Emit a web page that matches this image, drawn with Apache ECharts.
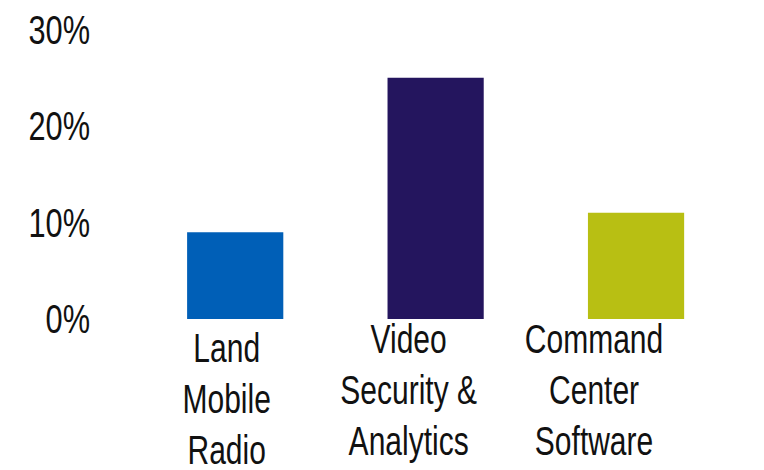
<!DOCTYPE html>
<html>
<head>
<meta charset="utf-8">
<script src="https://cdn.jsdelivr.net/npm/echarts@6/dist/echarts.min.js"></script>
<style>
  html, body { margin: 0; padding: 0; background: #fff; overflow: hidden; }
  #wrap { width: 764px; height: 470px; overflow: hidden; }
  #chart { height: 470px; transform-origin: 0 0; }
</style>
</head>
<body>
<div id="wrap"><div id="chart"></div></div>
<script>
// Segment growth shares
const categories = ['Land\nMobile\nRadio', 'Video\nSecurity &\nAnalytics', 'Command\nCenter\nSoftware'];
const shares = [9, 25, 11];
const barColors = ['#005FB7', '#24155E', '#B8BF13'];
const yTicks = [0, 10, 20, 30];

// The typeface is a condensed sans; the chart is drawn wide and squeezed
// horizontally so the lettering keeps its narrow proportions.
const SX = 0.75;
const W = 764;
const px = v => v / SX;   // on-screen horizontal px -> drawing px

// Per-label nudges (top, right padding in on-screen px)
const labelNudge = [[9, 17], [0, 54], [0, 84]];

const FONT = '"Liberation Sans", Arial, Helvetica, sans-serif';

const el = document.getElementById('chart');
el.style.width = px(W) + 'px';
el.style.transform = 'scaleX(' + SX + ')';

const chart = echarts.init(el, null, { renderer: 'svg' });

chart.setOption({
  backgroundColor: '#ffffff',
  animation: false,
  grid: {
    left: px(135), right: px(28), top: 29.5, bottom: 151,
    containLabel: false, outerBoundsMode: 'none'
  },
  xAxis: {
    type: 'category',
    data: categories.map((c, i) => ({
      value: c,
      textStyle: { padding: [labelNudge[i][0], px(labelNudge[i][1]), 0, 0] }
    })),
    axisLine: { show: false },
    axisTick: { show: false },
    axisLabel: {
      interval: 0,
      margin: -6,
      color: '#111111',
      fontFamily: FONT,
      fontSize: 40,
      lineHeight: 51,
      verticalAlign: 'top'
    }
  },
  yAxis: {
    type: 'value',
    min: yTicks[0],
    max: yTicks[yTicks.length - 1],
    interval: yTicks[1] - yTicks[0],
    splitLine: { show: false },
    axisLine: { show: false },
    axisTick: { show: false },
    axisLabel: {
      margin: px(45),
      color: '#111111',
      fontFamily: FONT,
      fontSize: 41,
      padding: [0, 0, 4, 0],
      formatter: v => v + '%'
    }
  },
  series: [{
    type: 'bar',
    data: shares.map((v, i) => ({ value: v, itemStyle: { color: barColors[i] } })),
    barWidth: '48%'
  }]
});
</script>
</body>
</html>
